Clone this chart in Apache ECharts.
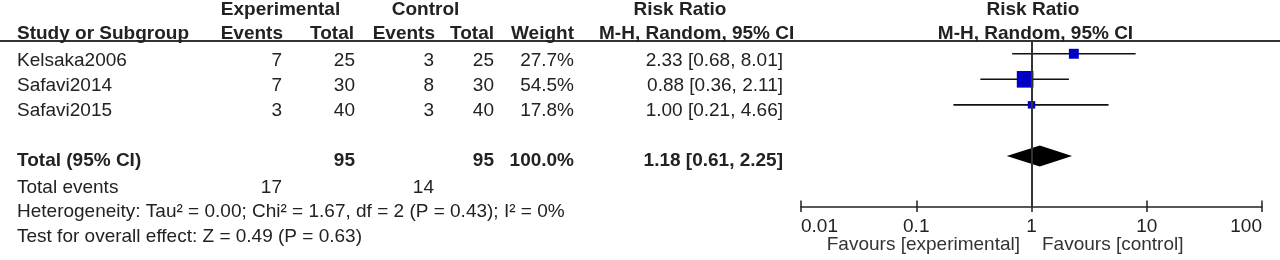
<!DOCTYPE html>
<html><head><meta charset="utf-8">
<script src="https://cdn.jsdelivr.net/npm/echarts@6/dist/echarts.min.js"></script>
<style>html,body{margin:0;padding:0;background:#fff}#c{width:1280px;height:260px}</style>
</head><body><div id="c"></div>
<script>
// ---- data ----
const studies = ['Kelsaka2006', 'Safavi2014', 'Safavi2015'];
const expEvents = [7, 7, 3];
const expTotal = [25, 30, 40];
const ctrlEvents = [3, 8, 3];
const ctrlTotal = [25, 30, 40];
const weights = [27.7, 54.5, 17.8];
const rr = [2.33, 0.88, 1.00];
const rrLow = [0.68, 0.36, 0.21];
const rrHigh = [8.01, 2.11, 4.66];
const totalLabel = 'Total (95% CI)';
const totalN = [95, 95];
const totalWeight = '100.0%';
const pooled = [1.18, 0.61, 2.25];
const totalEvents = [17, 14];
const heterogeneity = 'Heterogeneity: Tau² = 0.00; Chi² = 1.67, df = 2 (P = 0.43); I² = 0%';
const overallEffect = 'Test for overall effect: Z = 0.49 (P = 0.63)';
const xTickLabels = ['0.01', '0.1', '1', '10', '100'];
const favours = ['Favours [experimental]', 'Favours [control]'];
const headers1 = ['Experimental', 'Control', 'Risk Ratio', 'Risk Ratio'];
const headers2 = ['Study or Subgroup', 'Events', 'Total', 'Events', 'Total', 'Weight', 'M-H, Random, 95% CI', 'M-H, Random, 95% CI'];

// ---- layout ----
const FONT = '"Liberation Sans", Arial, sans-serif';
const FS = 19;
const TXT = '#222';
const fmt2 = v => v.toFixed(2);
const ciText = (e, l, h) => `${fmt2(e)} [${fmt2(l)}, ${fmt2(h)}]`;
const colRight = { exE: 282, exT: 355, ctE: 434, ctT: 494, w: 574, rr: 783 };
const rowY = [60.5, 86, 111];
const yTotal = 160.7, yEvents = 187.3, yHet = 211.7, yTest = 236.7, yH1 = 10, yH2 = 33.3;

function txt(text, x, y, align, bold, color) {
  return { type: 'text', x: x, y: y, silent: true,
    style: { text: String(text), fill: color || TXT, font: (bold ? 'bold ' : '') + FS + 'px ' + FONT,
      textAlign: align || 'left', textVerticalAlign: 'middle' } };
}

const g = [];
g.push({ type: 'line', shape: { x1: 0, y1: 41, x2: 1280, y2: 41 }, style: { stroke: '#333', lineWidth: 2 }, silent: true });
// header row 1
g.push(txt(headers1[0], 280.5, yH1, 'center', true));
g.push(txt(headers1[1], 425.5, yH1, 'center', true));
g.push(txt(headers1[2], 680, yH1, 'center', true));
g.push(txt(headers1[3], 1033, yH1, 'center', true));
// header row 2
g.push(txt(headers2[0], 17, yH2, 'left', true));
g.push(txt(headers2[1], 283, yH2, 'right', true));
g.push(txt(headers2[2], 354, yH2, 'right', true));
g.push(txt(headers2[3], 435, yH2, 'right', true));
g.push(txt(headers2[4], 494, yH2, 'right', true));
g.push(txt(headers2[5], 574, yH2, 'right', true));
g.push(txt(headers2[6], 599, yH2, 'left', true));
g.push(txt(headers2[7], 1035.5, yH2, 'center', true));
// study rows
studies.forEach((s, i) => {
  const y = rowY[i];
  g.push(txt(s, 17, y, 'left'));
  g.push(txt(expEvents[i], colRight.exE, y, 'right'));
  g.push(txt(expTotal[i], colRight.exT, y, 'right'));
  g.push(txt(ctrlEvents[i], colRight.ctE, y, 'right'));
  g.push(txt(ctrlTotal[i], colRight.ctT, y, 'right'));
  g.push(txt(weights[i].toFixed(1) + '%', colRight.w, y, 'right'));
  g.push(txt(ciText(rr[i], rrLow[i], rrHigh[i]), colRight.rr, y, 'right'));
});
// total row
g.push(txt(totalLabel, 17, yTotal, 'left', true));
g.push(txt(totalN[0], colRight.exT, yTotal, 'right', true));
g.push(txt(totalN[1], colRight.ctT, yTotal, 'right', true));
g.push(txt(totalWeight, colRight.w, yTotal, 'right', true));
g.push(txt(ciText(pooled[0], pooled[1], pooled[2]), colRight.rr, yTotal, 'right', true));
g.push(txt('Total events', 17, yEvents, 'left'));
g.push(txt(totalEvents[0], colRight.exE, yEvents, 'right'));
g.push(txt(totalEvents[1], colRight.ctE, yEvents, 'right'));
g.push(txt(heterogeneity, 17, yHet, 'left'));
g.push(txt(overallEffect, 17, yTest, 'left'));
g.push(txt(favours[0], 1020, 245, 'right', false, '#333'));
g.push(txt(favours[1], 1042, 245, 'left', false, '#333'));

const totalRow = 4;
const axisBase = {
  type: 'log', logBase: 10, min: 0.01, max: 100, position: 'bottom',
  minorTick: { show: false }, splitLine: { show: false }
};
const chart = echarts.init(document.getElementById('c'), null, { renderer: 'canvas' });
chart.setOption({
  animation: false,
  grid: { left: 801, right: 18, top: 41, bottom: 53 },
  xAxis: [
    Object.assign({}, axisBase, {
      axisLine: { show: true, onZero: false, lineStyle: { color: '#222', width: 1.5 } },
      axisTick: { show: true, inside: true, length: 6.5, lineStyle: { color: '#222', width: 1.5 } },
      axisLabel: {
        fontSize: FS, fontFamily: FONT, color: TXT, margin: 10.5,
        alignMinLabel: 'left', alignMaxLabel: 'right',
        formatter: v => xTickLabels[Math.round(Math.log10(v)) + 2]
      }
    }),
    Object.assign({}, axisBase, {
      axisLine: { show: false, onZero: false },
      axisTick: { show: true, inside: false, length: 5, lineStyle: { color: '#222', width: 1.5 } },
      axisLabel: { show: false }
    })
  ],
  yAxis: { type: 'value', min: -0.5, max: 6, inverse: true, show: false },
  graphic: { elements: g },
  series: [
    {
      type: 'custom', z: 2,
      data: studies.map((s, i) => [rrLow[i], rrHigh[i], i]),
      encode: { x: [0, 1], y: 2 },
      renderItem: (params, api) => {
        const a = api.coord([api.value(0), api.value(2)]);
        const b = api.coord([api.value(1), api.value(2)]);
        return { type: 'line', shape: { x1: a[0], y1: a[1], x2: b[0], y2: b[1] }, style: { stroke: '#111', lineWidth: 1.6 } };
      },
      markLine: {
        silent: true, symbol: 'none', label: { show: false },
        lineStyle: { color: '#333', width: 2, type: 'solid' },
        data: [{ xAxis: 1 }]
      }
    },
    {
      type: 'scatter', z: 3, symbol: 'rect',
      data: studies.map((s, i) => [rr[i], i, weights[i]]),
      symbolSize: v => 3 + 0.25 * v[2],
      itemStyle: { color: '#0000c4', opacity: 1 }
    },
    {
      type: 'custom', z: 3,
      data: [[pooled[0], pooled[1], pooled[2], totalRow]],
      encode: { x: [0, 1, 2], y: 3 },
      renderItem: (params, api) => {
        const c = api.coord([api.value(0), api.value(3)]);
        const l = api.coord([api.value(1), api.value(3)]);
        const r = api.coord([api.value(2), api.value(3)]);
        const h = 10.5;
        return { type: 'polygon', shape: { points: [[l[0], c[1]], [c[0], c[1] - h], [r[0], c[1]], [c[0], c[1] + h]] }, style: { fill: '#000' } };
      }
    }
  ]
});
</script></body></html>
